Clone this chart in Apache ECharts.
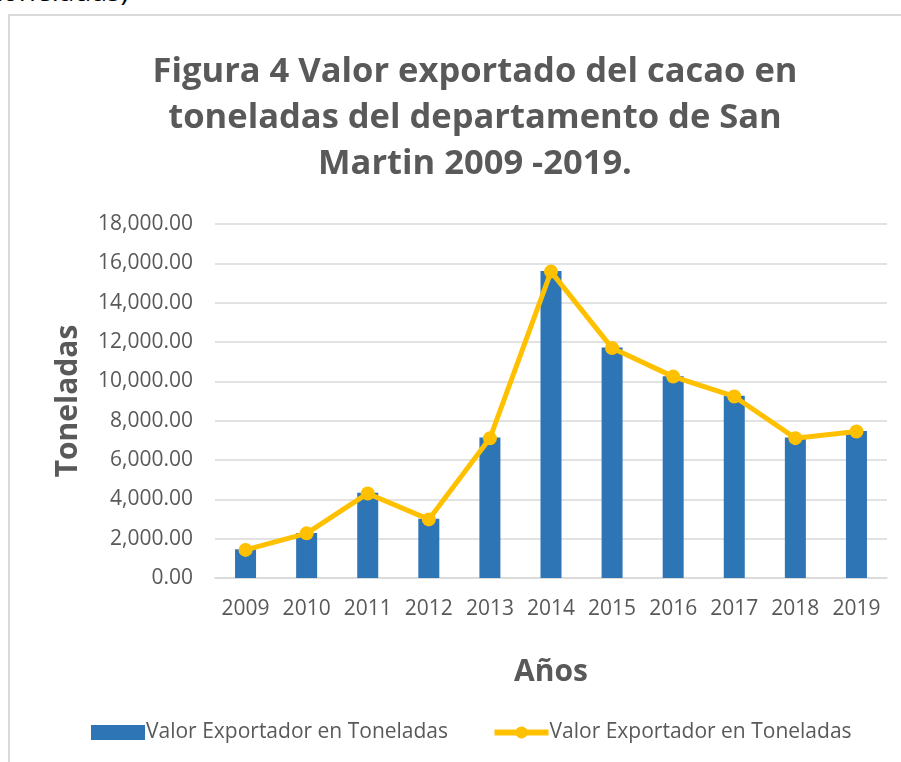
<!DOCTYPE html>
<html>
<head>
<meta charset="utf-8">
<script src="https://cdn.jsdelivr.net/npm/echarts@6/dist/echarts.min.js"></script>
<style>
html,body{margin:0;padding:0;background:#fff;overflow:hidden;}
#frame{position:absolute;left:8px;top:14px;width:900px;height:760px;border-top:2px solid #d9d9d9;border-left:2px solid #d9d9d9;}
#cut{position:absolute;left:-8px;top:-29px;font-family:"Open Sans",sans-serif;font-size:28px;color:#000;white-space:nowrap;}
#chart{position:absolute;left:0;top:0;width:901px;height:762px;}
</style>
</head>
<body>
<div id="cut">toneladas)</div>
<div id="frame"></div>
<div id="chart"></div>
<script>
const titleText = 'Figura 4 Valor exportado del cacao en\ntoneladas del departamento de San\nMartin 2009 -2019.';
const years = ['2009','2010','2011','2012','2013','2014','2015','2016','2017','2018','2019'];
const barValues = [1460, 2290, 4330, 3010, 7140, 15610, 11720, 10260, 9270, 7140, 7480];
const lineValues = [1430, 2270, 4300, 2980, 7100, 15580, 11690, 10240, 9230, 7110, 7450];
const seriesName = 'Valor Exportador en Toneladas';
const yAxisName = 'Toneladas';
const xAxisName = 'Años';

const font = '"Open Sans", sans-serif';
const gray = '#595959';
const chart = echarts.init(document.getElementById('chart'));
chart.setOption({
  animation: false,
  backgroundColor: 'transparent',
  title: {
    text: titleText,
    left: 470, top: 44, textAlign: 'center',
    textStyle: {fontFamily: font, fontSize: 34.5, fontWeight: 'bold', color: gray, lineHeight: 46}
  },
  grid: {left: 215, right: 14, top: 224, bottom: 184},
  legend: {
    bottom: 14, left: 86, itemGap: 38, itemWidth: 54, itemHeight: 15,
    textStyle: {fontFamily: font, fontSize: 21, color: gray, padding: [0,0,0,-4]},
    data: [
      {name: seriesName + ' ', icon: 'rect'},
      {name: seriesName, itemStyle: {color: '#FFC000'}, lineStyle: {color: '#FFC000', width: 6}}
    ]
  },
  xAxis: {
    type: 'category', data: years,
    name: xAxisName, nameLocation: 'middle', nameGap: 79,
    nameTextStyle: {fontFamily: font, fontSize: 30, fontWeight: 'bold', color: gray},
    axisLine: {lineStyle: {color: '#d9d9d9', width: 1.5}},
    axisTick: {show: false},
    axisLabel: {fontFamily: font, fontSize: 21, color: gray, margin: 21, interval: 0}
  },
  yAxis: {
    type: 'value', min: 0, max: 18000, interval: 2000,
    name: yAxisName, nameLocation: 'middle', nameGap: 132,
    nameTextStyle: {fontFamily: font, fontSize: 30, fontWeight: 'bold', color: gray},
    axisLine: {show: false}, axisTick: {show: false},
    splitLine: {lineStyle: {color: '#d9d9d9', width: 1.5}},
    axisLabel: {fontFamily: font, fontSize: 21, color: gray, margin: 22,
      formatter: v => v.toLocaleString('en-US', {minimumFractionDigits: 2, maximumFractionDigits: 2})}
  },
  series: [
    {name: seriesName + ' ', type: 'bar', data: barValues, barWidth: 21,
      itemStyle: {color: '#2E75B6'}},
    {name: seriesName, type: 'line', data: lineValues, symbol: 'circle', symbolSize: 14,
      lineStyle: {color: '#FFC000', width: 5}, itemStyle: {color: '#FFC000'}}
  ]
});
</script>
</body>
</html>
